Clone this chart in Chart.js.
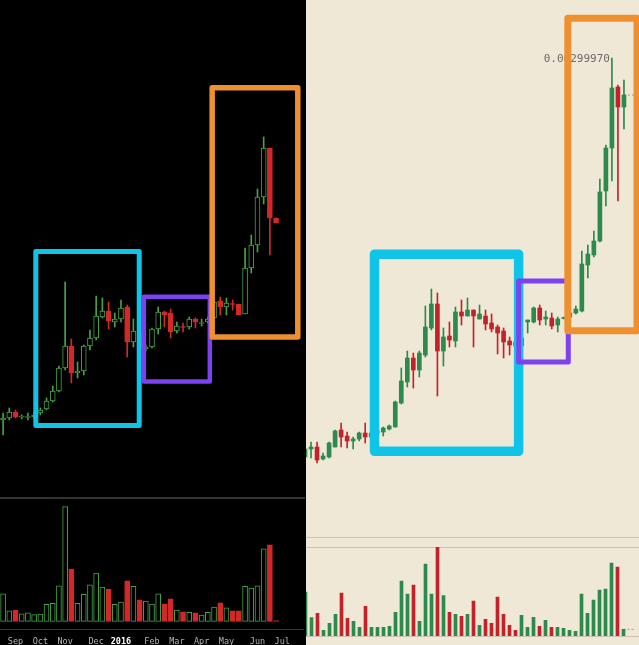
<!DOCTYPE html>
<html><head><meta charset="utf-8">
<script src="https://cdn.jsdelivr.net/npm/chart.js@4.4.1/dist/chart.umd.min.js"></script>
<style>
html,body{margin:0;padding:0;width:639px;height:645px;overflow:hidden;background:#000;}
#left{position:absolute;left:0;top:0;width:305px;height:645px;background:#000;overflow:hidden;}
#right{position:absolute;left:306px;top:0;width:333px;height:645px;background:#F0E8D6;overflow:hidden;}
canvas{position:absolute;}
.hl{position:absolute;left:0;width:100%;}
</style></head><body>
<div id="left">
  <canvas id="lp" width="304" height="498" style="left:0;top:0;width:304px;height:498px"></canvas>
  <div class="hl" style="top:497px;height:2px;background:#333"></div>
  <canvas id="lv" width="304" height="147" style="left:0;top:498px;width:304px;height:147px"></canvas>
</div>
<div id="right">
  <canvas id="rp" width="337" height="537" style="left:-4px;top:0;width:337px;height:537px"></canvas>
  <div class="hl" style="top:537px;height:1px;background:#CBC2B1"></div>
  <div class="hl" style="top:547px;height:1px;background:#CBC2B1"></div>
  <canvas id="rv" width="337" height="90" style="left:-4px;top:547px;width:337px;height:90px"></canvas>
  <div class="hl" style="top:636px;height:1px;background:#CBC2B1"></div>
</div>
<script>
// ---------- LEFT (weekly) ----------
const leftMonthTicks = {2:'Sep',6:'Oct',10:'Nov',15:'Dec',19:'2016',24:'Feb',28:'Mar',32:'Apr',36:'May',41:'Jun',45:'Jul'};
const leftWeekCount = 49;
const leftOpen  = [828,840,876,846,843,846,870,894,942,1002,1140,1272,1110,1122,1272,1320,1446,1482,1416,1434,1506,1296,1362,1254,1266,1374,1476,1470,1362,1389,1386,1434,1407,1416,1440,1542,1506,1527,1524,1464,1740,1878,2166,2460,2040];
const leftHigh  = [870,900,888,858,870,876,900,960,1032,1152,1656,1314,1176,1278,1368,1572,1560,1536,1470,1548,1518,1434,1380,1278,1380,1506,1482,1494,1416,1410,1446,1440,1434,1446,1548,1566,1560,1548,1524,1860,1938,2214,2526,2460,2040];
const leftLow   = [738,828,840,834,828,834,858,888,936,996,1128,1050,1080,1098,1248,1308,1440,1374,1386,1416,1206,1266,1236,1242,1260,1344,1386,1320,1350,1356,1374,1380,1392,1410,1434,1458,1458,1488,1458,1464,1710,1836,2124,1818,2010];
const leftClose = [840,876,846,852,849,858,888,942,1002,1140,1272,1110,1122,1272,1320,1452,1482,1422,1434,1500,1296,1362,1260,1266,1374,1476,1458,1356,1392,1383,1434,1416,1413,1434,1536,1506,1530,1521,1458,1740,1878,2166,2460,2040,2010];
const leftVolume = [83,32,33,23,26,20,22,51,54,107,345,157,54,81,110,145,103,97,51,58,122,105,65,61,52,83,53,68,34,29,27,26,19,27,43,56,41,32,32,105,100,107,218,230,2];
const leftZoneWeeks  = [[5.27,21.94],[22.68,33.32],[33.7,47.5]];
const leftZonePrices = [[795,1839],[1059,1568],[1326,2821]];

// ---------- RIGHT (daily) ----------
const rightDayCount = 56;
const rightOpen  = [606,654,666,594,606,666,768,732,702,714,750,726,750,756,774,786,930,1056,1200,1128,1218,1380,1524,1242,1332,1302,1476,1452,1488,1434,1452,1410,1386,1362,1302,1296,1272,1416,1416,1500,1434,1440,1398,1437,1446,1470,1482,1758,1818,1902,2202,2460,2826,2706];
const rightHigh  = [666,696,696,630,696,768,810,756,726,756,810,762,774,786,798,942,1140,1242,1230,1242,1512,1614,1590,1380,1416,1506,1548,1560,1488,1518,1488,1464,1398,1380,1326,1308,1338,1428,1506,1518,1482,1470,1446,1446,1482,1512,1842,1878,1962,2274,2478,2999.7,2838,2868];
const rightLow   = [594,600,570,588,600,666,666,660,654,702,690,714,732,732,768,786,924,1026,1020,1086,1206,1368,972,1152,1266,1266,1398,1452,1266,1434,1368,1356,1224,1200,1218,1248,1260,1350,1410,1398,1398,1374,1356,1434,1440,1464,1476,1680,1806,1896,2112,2262,2142,2574];
const rightClose = [654,666,588,612,690,762,726,702,714,750,726,750,762,780,792,936,1062,1200,1128,1230,1386,1524,1242,1326,1308,1476,1452,1488,1452,1464,1404,1374,1350,1296,1278,1272,1320,1428,1500,1428,1446,1392,1434,1443,1470,1494,1764,1824,1902,2196,2460,2820,2706,2778];
const rightVolume = [134,58,71,20,41,68,131,56,47,29,92,29,29,29,32,74,167,128,155,47,218,128,269,124,74,68,62,68,107,35,53,41,119,68,35,20,65,29,59,32,50,29,29,26,20,17,128,71,110,140,143,221,209,23];
const rightZoneDays   = [[11.55,35.5],[35.5,43.75],[43.67,55.17]];
const rightZonePrices = [[640,1823],[1176,1662],[1364,3238]];

// ---------- helpers ----------
const leftLabels = Array.from({length:leftWeekCount},(_,i)=>leftMonthTicks[i]||'');
const rightLabels = Array.from({length:rightDayCount},(_,i)=>String(i));

function candleSets(open, high, low, close, up, down, hollowBg, bodyW){
  const isUp = close.map((c,i)=>c>=open[i]);
  return [
    {type:'bar', data: open.map((o,i)=>[o, close[i]]),
     backgroundColor: isUp.map(u=>u ? (hollowBg||up) : down),
     borderColor: isUp.map(u=>u?up:down),
     borderWidth: hollowBg?1:0, borderSkipped:false,
     barThickness: bodyW, grouped:false, order:0},
    {type:'bar', data: low.map((l,i)=>[l, high[i]]),
     backgroundColor: isUp.map(u=>u?up:down),
     borderWidth:0, barThickness:1, grouped:false, order:1}
  ];
}
function volumeSet(vol, open, close, up, down, hollowBg, w){
  const isUp = close.map((c,i)=>c>=open[i]);
  return {type:'bar', data: vol,
    backgroundColor: isUp.map(u=>u?(hollowBg||up):down),
    borderColor: isUp.map(u=>u?up:down),
    borderWidth: hollowBg?1:0, borderSkipped:false,
    barThickness:w, grouped:false, order:0};
}
function zonesPlugin(days, prices, styles){
  return {id:'zones', afterDraw(chart){
    const {ctx, scales:{x,y}} = chart;
    ctx.save();
    days.forEach((d,k)=>{
      const x0=x.getPixelForValue(d[0]), x1=x.getPixelForValue(d[1]);
      const yTop=y.getPixelForValue(prices[k][1]), yBot=y.getPixelForValue(prices[k][0]);
      ctx.strokeStyle=styles[k][0]; ctx.lineWidth=styles[k][1]; ctx.lineJoin='round';
      ctx.strokeRect(x0, yTop, x1-x0, yBot-yTop);
    });
    ctx.restore();
  }};
}
const common = {responsive:false, animation:false, devicePixelRatio:1,
  layout:{padding:0}, plugins:{legend:{display:false}, tooltip:{enabled:false}}};

const LG='#46A346', LR='#D42828';
const RG='#2B8A4C', RR='#C42229';

// Left price
new Chart(document.getElementById('lp'), {
  type:'bar',
  data:{labels:leftLabels, datasets:candleSets(leftOpen,leftHigh,leftLow,leftClose,LG,LR,'#000',5)},
  options:{...common, scales:{x:{display:false, offset:true}, y:{display:false, min:360, max:3348}}},
  plugins:[zonesPlugin(leftZoneWeeks,leftZonePrices,[['#10C4E8',5],['#7C42F0',4.5],['#EE902F',5.5]])]
});
// Left volume
new Chart(document.getElementById('lv'), {
  type:'bar',
  data:{labels:leftLabels, datasets:[volumeSet(leftVolume,leftOpen,leftClose,LG,LR,'#000',5)]},
  options:{...common, scales:{
    x:{offset:true, grid:{display:false}, border:{display:true,color:'#333',width:1},
       afterFit:(s)=>{s.height=16;},
       ticks:{autoSkip:false, maxRotation:0, minRotation:0, padding:0,
         callback:function(v){return this.getLabelForValue(v);},
         color:(c)=>c.tick&&c.tick.label==='2016'?'#ffffff':'#b5b5b5',
         font:(c)=>({family:'DejaVu Sans Mono', size:8.5, weight:(c.tick&&c.tick.label==='2016')?'bold':'normal'})}},
    y:{display:false, min:-23, max:371}}}
});
// Right price
const lastIdx = rightClose.length-1;
const labelPlugin = {id:'hiLabel', afterDatasetsDraw(chart){
  const {ctx, scales:{x,y}} = chart;
  const hv = Math.max(...rightHigh), hi = rightHigh.indexOf(hv);
  ctx.save();
  ctx.font='11px "DejaVu Sans Mono"'; ctx.fillStyle='#6a6a6a';
  ctx.textAlign='right'; ctx.textBaseline='middle';
  ctx.fillText((hv/1e6).toFixed(8), x.getPixelForValue(hi)-2, y.getPixelForValue(hv)+1);
  ctx.restore();
}};
new Chart(document.getElementById('rp'), {
  type:'bar',
  data:{labels:rightLabels, datasets:[
    ...candleSets(rightOpen,rightHigh,rightLow,rightClose,RG,RR,null,4),
    {type:'line', data:rightLabels.map((_,i)=>i>=lastIdx?rightClose[lastIdx]:null),
     borderColor:'#9a9a9a', borderWidth:1, borderDash:[2,2], pointRadius:0, order:2}
  ]},
  options:{...common, scales:{x:{display:false, offset:true}, y:{display:false, min:126, max:3348}}},
  plugins:[labelPlugin, zonesPlugin(rightZoneDays,rightZonePrices,[['#10C4E8',9.5],['#7C42F0',5],['#EE902F',7]])]
});
// Right volume
new Chart(document.getElementById('rv'), {
  type:'bar',
  data:{labels:rightLabels, datasets:[
    volumeSet(rightVolume,rightOpen,rightClose,RG,RR,null,3),
    {type:'line', data:rightLabels.map((_,i)=>i>=lastIdx?rightVolume[lastIdx]:null),
     borderColor:'#9a9a9a', borderWidth:1, borderDash:[2,2], pointRadius:0, order:2}
  ]},
  options:{...common, layout:{padding:{left:0.5,right:0.5,top:0,bottom:0}},
    scales:{x:{display:false, offset:true}, y:{display:false, min:0, max:269}}}
});
</script>
</body></html>
